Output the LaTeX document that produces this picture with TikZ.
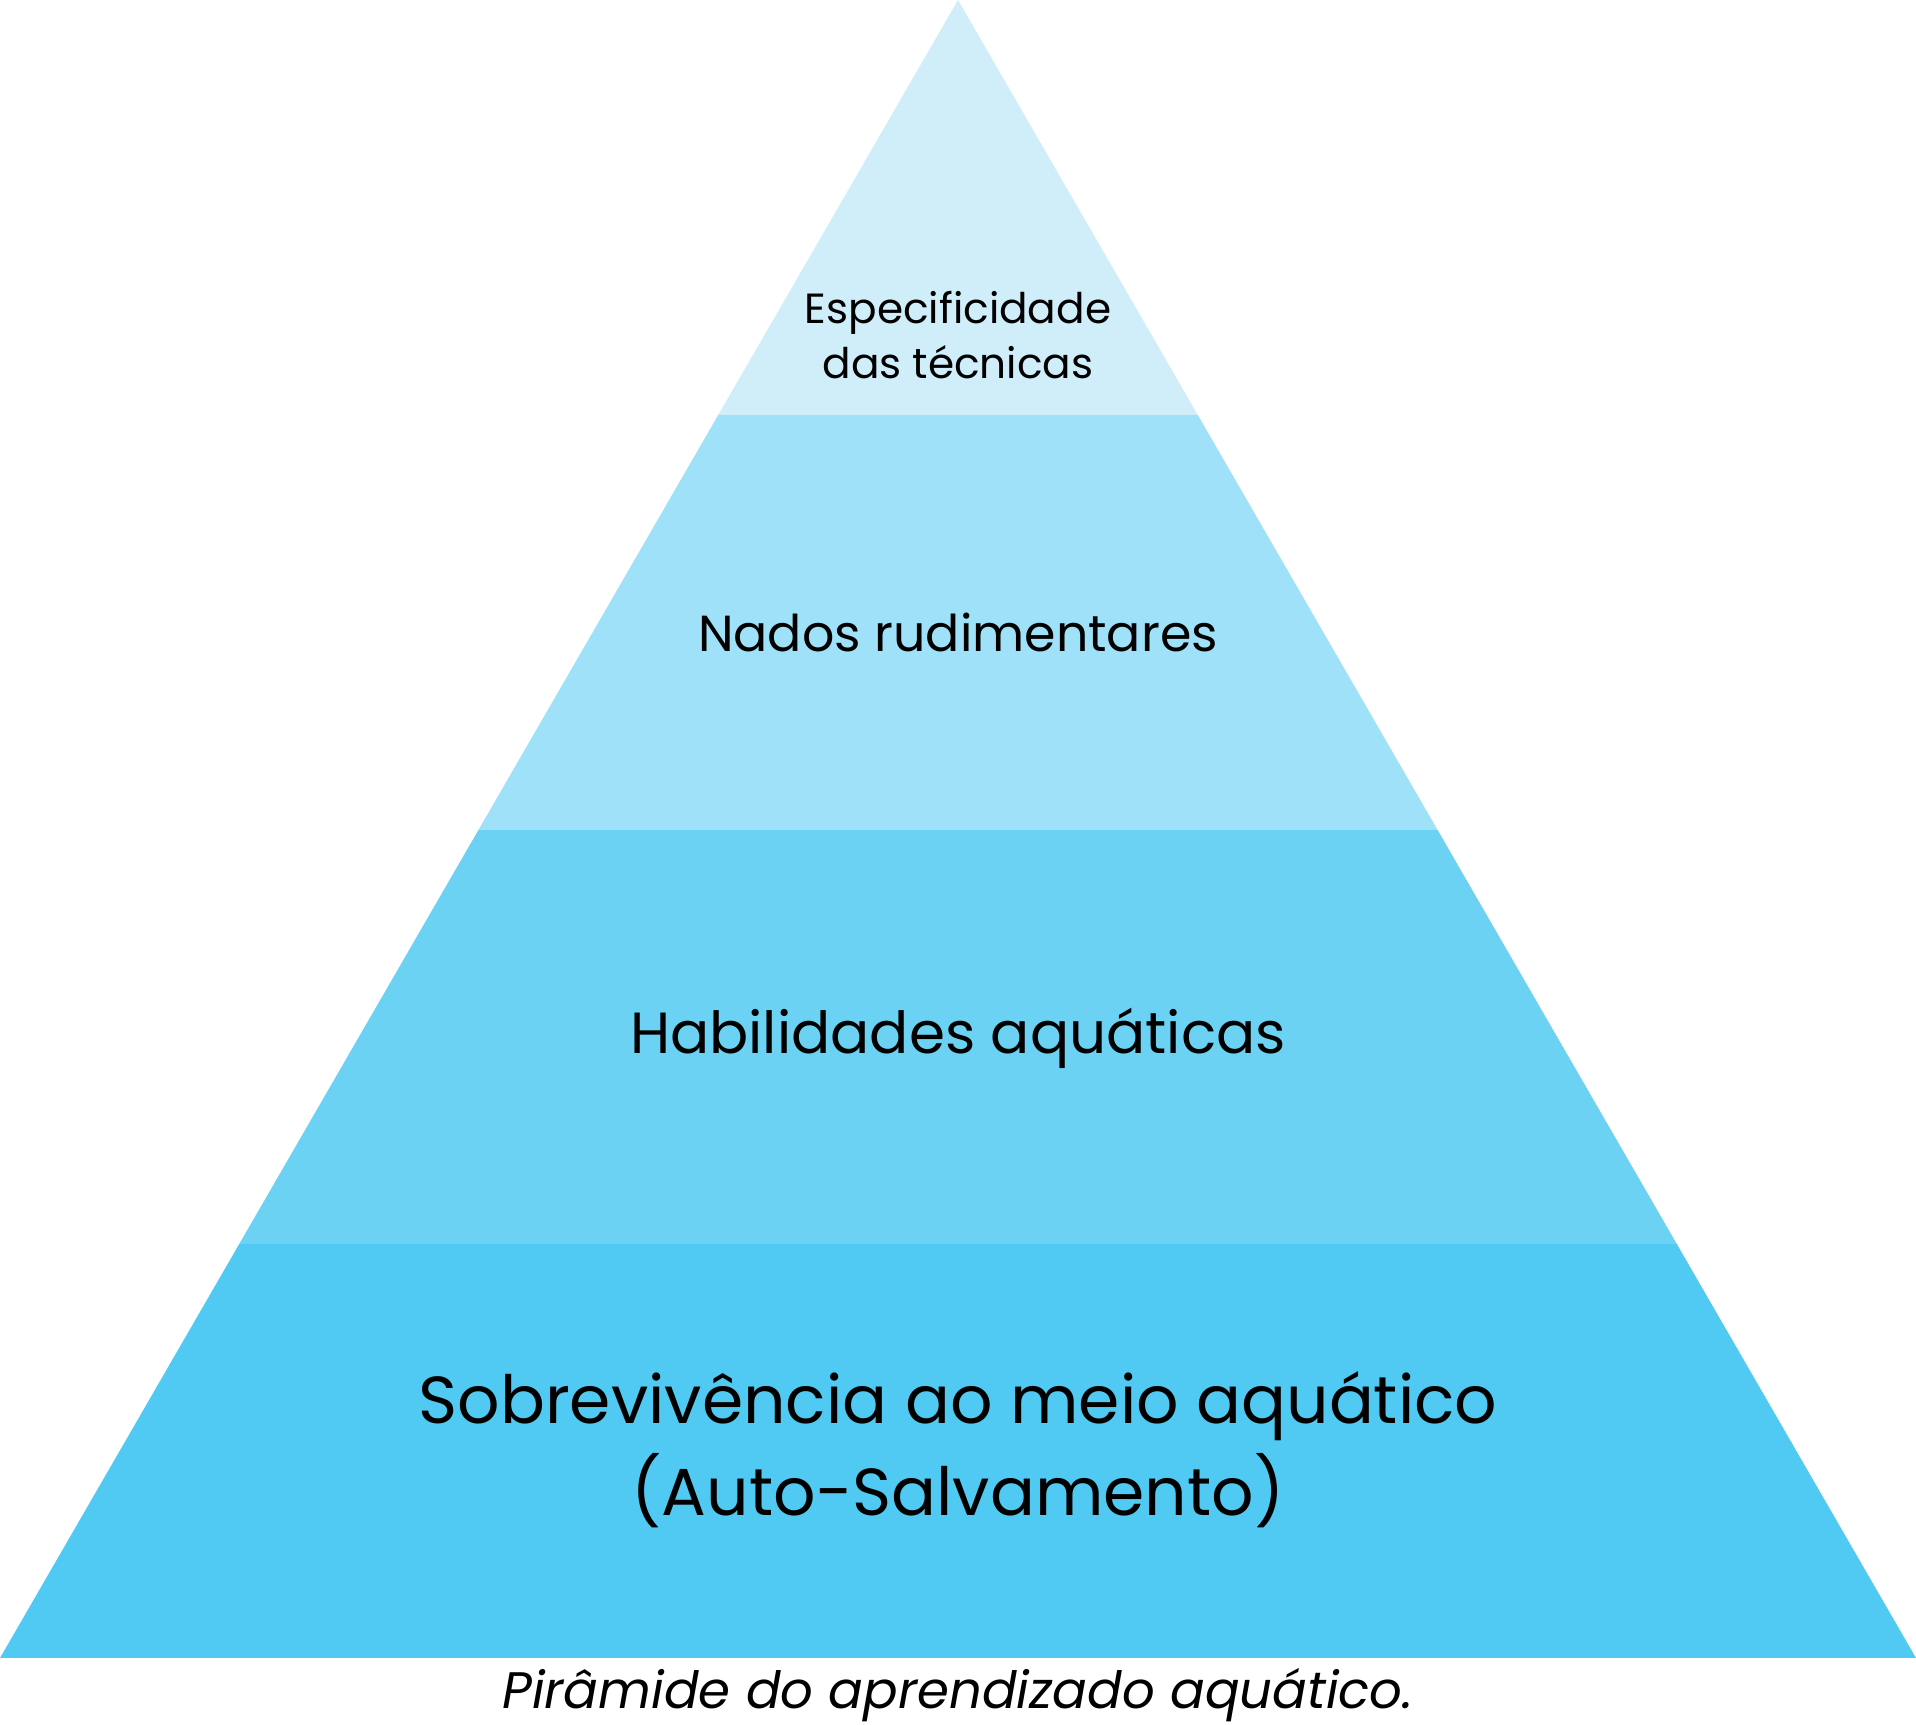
\documentclass[tikz,border=0pt]{standalone}
\usepackage{fontspec}
\setmainfont{Poppins}
\usepackage{tikz}
\definecolor{nivelA}{RGB}{207,238,250}
\definecolor{nivelB}{RGB}{158,225,248}
\definecolor{nivelC}{RGB}{108,210,244}
\definecolor{nivelD}{RGB}{80,202,242}
\tikzstyle{rotulo} = [anchor=base, align=center, inner sep=0pt, text=black]
\tikzstyle{legenda} = [anchor=base, inner sep=0pt, font=\fontsize{14.6}{17}\selectfont\itshape]

\begin{document}
\begin{tikzpicture}[x=0.01cm, y=-0.01cm]

    \useasboundingbox (0,0) rectangle (1916,1724);

    % piramide em quatro faixas
    \begin{scope}
        \clip (958,0) -- (1916,1658) -- (0,1658) -- cycle;
        \fill[nivelA] (0,0) rectangle (1916,415);
        \fill[nivelB] (0,415) rectangle (1916,830);
        \fill[nivelC] (0,830) rectangle (1916,1244);
        \fill[nivelD] (0,1244) rectangle (1916,1658);
    \end{scope}

    \node (tecnicas) [rotulo, font=\fontsize{12}{15.6}\selectfont] at (958,378) {Especificidade\\das técnicas};
    \node (nados) [rotulo, font=\fontsize{14.4}{17}\selectfont] at (958,651) {Nados rudimentares};
    \node (habilidades) [rotulo, font=\fontsize{16.5}{20}\selectfont] at (958,1053) {Habilidades aquáticas};
    \node (sobrevivencia) [rotulo, font=\fontsize{18.9}{25.9}\selectfont] at (958,1515) {Sobrevivência ao meio aquático\\(Auto-Salvamento)};
    \node (titulo) [legenda] at (958,1708) {Pirâmide do aprendizado aquático.};

\end{tikzpicture}
\end{document}
